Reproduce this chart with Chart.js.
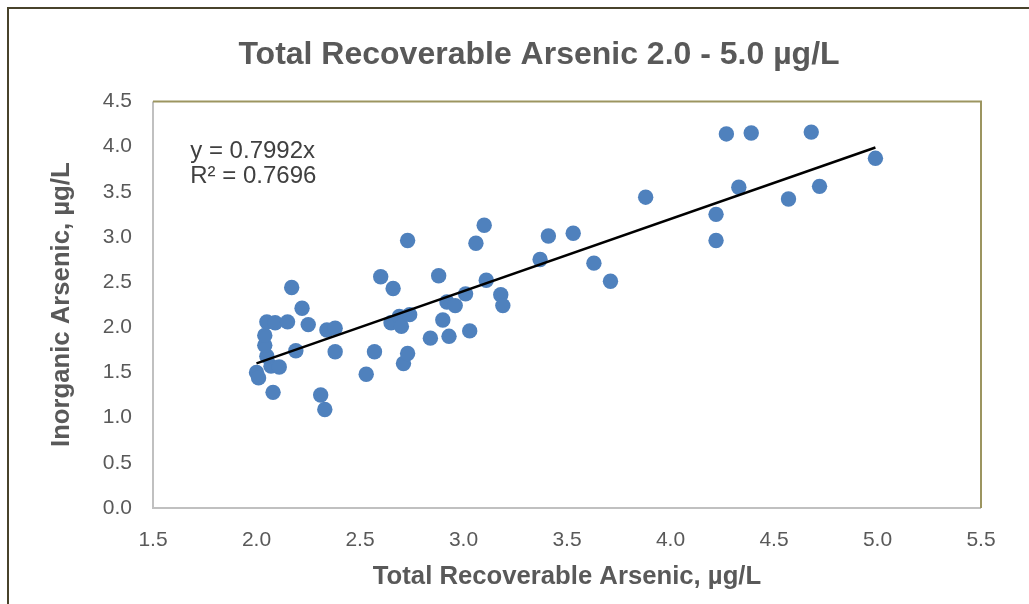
<!DOCTYPE html>
<html>
<head>
<meta charset="utf-8">
<title>Total Recoverable Arsenic 2.0 - 5.0 µg/L</title>
<script src="https://cdn.jsdelivr.net/npm/chart.js@4.4.1/dist/chart.umd.min.js"></script>
<style>
  html, body { margin: 0; padding: 0; background: #fff; overflow: hidden; }
  #wrap { width: 1029px; height: 604px; position: relative; }
</style>
</head>
<body>
<div id="wrap"><canvas id="chart" width="1029" height="604"></canvas></div>
<script>
// ---- data ----
const totalAs = [2.00, 2.01, 2.07, 2.11, 2.08, 2.05, 2.04, 2.04, 2.05, 2.09,
                 2.15, 2.17, 2.22, 2.25, 2.19, 2.31, 2.33, 2.34, 2.38, 2.38,
                 2.53, 2.57, 2.60, 2.66, 2.65, 2.69, 2.70, 2.74, 2.73, 2.71,
                 2.73, 2.84, 2.88, 2.90, 2.92, 2.93, 2.96, 3.01, 3.03, 3.06,
                 3.10, 3.11, 3.18, 3.19, 3.37, 3.41, 3.53, 3.63, 3.71, 3.88,
                 4.22, 4.22, 4.27, 4.33, 4.39, 4.57, 4.68, 4.72, 4.99];
const inorgAs = [1.50, 1.44, 1.57, 1.56, 1.28, 1.68, 1.80, 1.91, 2.06, 2.05,
                 2.06, 2.44, 2.21, 2.03, 1.74, 1.25, 1.09, 1.97, 1.99, 1.73,
                 1.48, 1.73, 2.56, 2.43, 2.05, 2.12, 2.01, 2.14, 2.96, 1.60,
                 1.71, 1.88, 2.57, 2.08, 2.28, 1.90, 2.24, 2.37, 1.96, 2.93,
                 3.13, 2.52, 2.36, 2.24, 2.75, 3.01, 3.04, 2.71, 2.51, 3.44,
                 3.25, 2.96, 4.14, 3.55, 4.15, 3.42, 4.16, 3.56, 3.87];

// linear trendline (through origin) end points
const trendX = [2.00, 4.99];
const trendY = [1.60, 3.99];

const xTicks = [1.5, 2.0, 2.5, 3.0, 3.5, 4.0, 4.5, 5.0, 5.5];
const yTicks = [0.0, 0.5, 1.0, 1.5, 2.0, 2.5, 3.0, 3.5, 4.0, 4.5];

const eqLines = ["y = 0.7992x", "R² = 0.7696"];
const eqAnchor = { x: 1.68, y: 3.87 };   // data coords of the first baseline

const chartTitle = "Total Recoverable Arsenic 2.0 - 5.0 µg/L";
const xTitle = "Total Recoverable Arsenic, µg/L";
const yTitle = "Inorganic Arsenic, µg/L";

const GRAY = "#595959";
Chart.defaults.font.family = "'Liberation Sans', Arial, sans-serif";

// outer frame + plot area border + trend equation
const decor = {
  id: "decor",
  beforeDraw(chart) {
    const c = chart.ctx;
    c.save();
    c.fillStyle = "#fff";
    c.fillRect(0, 0, chart.width, chart.height);
    c.strokeStyle = "#48432b";
    c.lineWidth = 2;
    c.beginPath();
    c.moveTo(8, chart.height);
    c.lineTo(8, 8);
    c.lineTo(chart.width, 8);
    c.stroke();
    c.restore();
  },
  afterDatasetsDraw(chart) {
    const { ctx: c, chartArea: a, scales } = chart;
    c.save();
    c.lineWidth = 2;
    c.strokeStyle = "#c0c0c0";
    c.beginPath();
    c.moveTo(a.left, a.top);
    c.lineTo(a.left, a.bottom);
    c.lineTo(a.right, a.bottom);
    c.stroke();
    c.strokeStyle = "#9c9560";
    c.beginPath();
    c.moveTo(a.left, a.top);
    c.lineTo(a.right, a.top);
    c.lineTo(a.right, a.bottom);
    c.stroke();

    c.fillStyle = "#404040";
    c.font = "24px 'Liberation Sans', Arial, sans-serif";
    c.textBaseline = "alphabetic";
    const x0 = scales.x.getPixelForValue(eqAnchor.x);
    const y0 = scales.y.getPixelForValue(eqAnchor.y);
    eqLines.forEach((t, i) => c.fillText(t, x0, y0 + i * 25));
    c.restore();
  }
};

const points = totalAs.map((v, i) => ({ x: v, y: inorgAs[i] }));
const trend = trendX.map((v, i) => ({ x: v, y: trendY[i] }));

new Chart(document.getElementById("chart"), {
  type: "scatter",
  data: {
    datasets: [
      {
        type: "line",
        data: trend,
        borderColor: "#000",
        borderWidth: 2.5,
        pointRadius: 0,
        fill: false,
        order: 0
      },
      {
        data: points,
        backgroundColor: "#4f81bd",
        borderColor: "#4f81bd",
        borderWidth: 0,
        pointRadius: 7.7,
        order: 1
      }
    ]
  },
  options: {
    responsive: false,
    animation: false,
    events: [],
    layout: { padding: { left: 97, right: 48, top: 0, bottom: 0 } },
    plugins: {
      legend: { display: false },
      tooltip: { enabled: false },
      title: {
        display: true,
        text: chartTitle,
        color: GRAY,
        font: { size: 32, weight: "bold" },
        padding: { top: 36, bottom: 27 }
      }
    },
    scales: {
      x: {
        type: "linear",
        min: xTicks[0],
        max: xTicks[xTicks.length - 1],
        afterBuildTicks: s => { s.ticks = xTicks.map(v => ({ value: v })); },
        afterFit: s => { s.height = 96; },
        grid: { display: false, drawTicks: false },
        border: { display: false },
        ticks: { color: GRAY, font: { size: 21 }, padding: 20, callback: v => v.toFixed(1) },
        title: { display: true, text: xTitle, color: GRAY, font: { size: 25.7, weight: "bold" }, padding: { top: 0, bottom: 11.6 } }
      },
      y: {
        type: "linear",
        min: yTicks[0],
        max: yTicks[yTicks.length - 1],
        afterBuildTicks: s => { s.ticks = yTicks.map(v => ({ value: v })); },
        afterFit: s => { s.width = 56; },
        grid: { display: false, drawTicks: false },
        border: { display: false },
        ticks: { color: GRAY, font: { size: 21 }, padding: 21, callback: v => v.toFixed(1) },
        title: { display: true, text: yTitle, color: GRAY, font: { size: 25.7, weight: "bold" }, padding: { top: -50.4, bottom: 0 } }
      }
    }
  },
  plugins: [decor]
});
</script>
</body>
</html>
